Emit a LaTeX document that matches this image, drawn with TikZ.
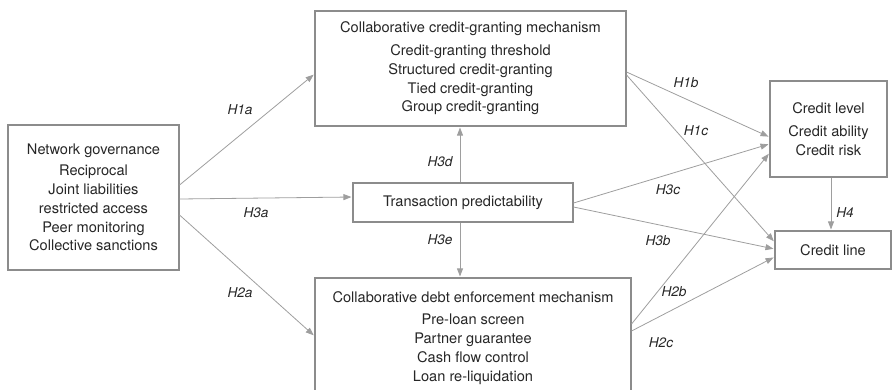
\documentclass[tikz,border=0pt]{standalone}
\usepackage{fontspec}
\setmainfont{TeX Gyre Heros}
\usepackage{tikz}
\usetikzlibrary{arrows.meta}

\begin{document}
\begin{tikzpicture}[x=1pt,y=-1pt,
	box/.style={draw=black!45,line width=1.1pt,inner sep=0pt,align=center,text=black!85,
		font=\fontsize{14.6}{18.7}\selectfont},
	arr/.style={draw=black!38,line width=0.8pt,-{Triangle[length=8pt,width=6pt]},shorten >=1pt},
	hyp/.style={inner sep=0pt,text=black!85,font=\fontsize{13.6}{16}\selectfont\itshape}]
	\useasboundingbox (0,0) rectangle (892,389);
	\clip (0,0) rectangle (892,389);

	\node[box,minimum width=171pt,minimum height=145pt] (ng) at (93.5,197.5)
		{Network governance\\[2.6pt] Reciprocal\\ Joint liabilities\\ restricted access\\ Peer monitoring\\ Collective sanctions};
	\node[box,minimum width=311pt,minimum height=115pt] (cg) at (470.5,68.5)
		{Collaborative credit-granting mechanism\\[4pt] Credit-granting threshold\\ Structured credit-granting\\ Tied credit-granting\\ Group credit-granting};
	\node[box,minimum width=220pt,minimum height=39pt] (tp) at (463,202.5) {Transaction predictability};
	\node[box,minimum width=316pt,minimum height=120pt] (de) at (473,338)
		{Collaborative debt enforcement mechanism\\[3.5pt] Pre-loan screen\\ Partner guarantee\\ Cash flow control\\ Loan re-liquidation};
	\node[box,minimum width=117pt,minimum height=96pt] (cl) at (828.5,129)
		{Credit level\\[4pt] Credit ability\\ Credit risk};
	\node[box,minimum width=116pt,minimum height=38pt] (li) at (833,250) {Credit line};

	\draw[arr] (ng.east |- 0,185) -- (cg.west |- 0,74);
	\draw[arr] (ng.east |- 0,199) -- (tp.west |- 0,197);
	\draw[arr] (ng.east |- 0,215) -- (de.west |- 0,336);
	\draw[arr] (tp.north -| 460,0) -- (cg.south -| 460,0);
	\draw[arr] (tp.south -| 460,0) -- (de.north -| 460,0);
	\draw[arr] (cg.east |- 0,72) -- (cl.west |- 0,137);
	\draw[arr] (cg.east |- 0,75) -- (li.west |- 0,242);
	\draw[arr] (tp.east |- 0,203) -- (cl.west |- 0,144);
	\draw[arr] (tp.east |- 0,207) -- (li.west |- 0,249);
	\draw[arr] (de.east |- 0,324) -- (cl.west |- 0,153);
	\draw[arr] (de.east |- 0,331) -- (li.west |- 0,257);
	\draw[arr] (cl.south -| 831,0) -- (li.north -| 831,0);

	\node[hyp] (h1a) at (240,110) {H1a};
	\node[hyp] (h3a) at (256,213) {H3a};
	\node[hyp] (h2a) at (240,293) {H2a};
	\node[hyp] (h3d) at (440,162) {H3d};
	\node[hyp] (h3e) at (440,240) {H3e};
	\node[hyp] (h1b) at (686,83) {H1b};
	\node[hyp] (h1c) at (696,131) {H1c};
	\node[hyp] (h3c) at (668,190) {H3c};
	\node[hyp] (h3b) at (658,241) {H3b};
	\node[hyp] (h2b) at (674,292) {H2b};
	\node[hyp] (h2c) at (661,343) {H2c};
	\node[hyp] (h4) at (845,213) {H4};
\end{tikzpicture}
\end{document}
